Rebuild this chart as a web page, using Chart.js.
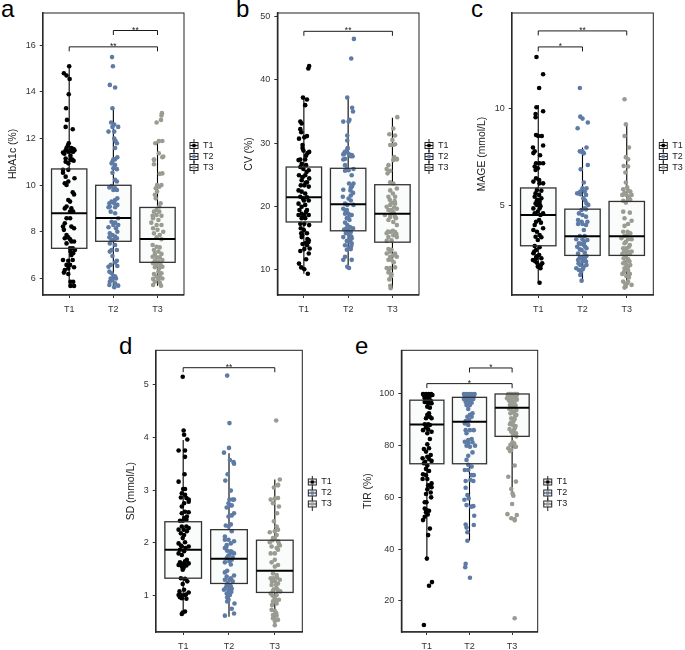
<!DOCTYPE html>
<html>
<head>
<meta charset="utf-8">
<script src="https://cdn.jsdelivr.net/npm/chart.js@4"></script>
<style>
	body { margin: 0; background: #fff; width: 685px; height: 650px; overflow: hidden; position: relative; }
	canvas { position: absolute; }
	.tag { position: absolute; font: 24px "Liberation Sans", Arial, sans-serif; line-height: 24px; color: #000; }
</style>
</head>
<body>
<span class="tag" style="left:1px;top:-3px">a</span>
<span class="tag" style="left:236px;top:-3px">b</span>
<span class="tag" style="left:471px;top:-3px">c</span>
<span class="tag" style="left:119px;top:334px">d</span>
<span class="tag" style="left:355px;top:334px">e</span>
<canvas id="panelA"></canvas>
<canvas id="panelB"></canvas>
<canvas id="panelC"></canvas>
<canvas id="panelD"></canvas>
<canvas id="panelE"></canvas>
<script>
const groups = ['T1', 'T2', 'T3'];
const groupColors = ['#000000', '#5E7BA6', '#9A9C92'];

// Points are [jitter from group centre, value]
const hba1cT1 = [[0,15.1],[-.12,14.8],[-.06,14.7],[.01,14.55],[-.01,13.9],[-.07,13.3],[-.05,12.8],[-.08,12.5],[.08,12.4],[-.01,11.8],[-.03,11.7],[-.06,11.6],[-.08,11.5],[.05,11.6],[.1,11.55],[.07,11.45],[.12,11.5],[-.11,11.35],[0,11.45],[-.08,11.15],[.03,11.1],[.1,11.05],[.07,11.1],[-.14,11.4],[-.02,11.44],[.09,11.44],[.03,11.26],[-.08,11.01],[-.02,10.94],[.05,11.09],[-.14,10.66],[-.02,10.66],[-.14,10.54],[-.08,10.37],[.12,10.3],[-.02,10.16],[-.1,10.09],[-.06,10.01],[.08,9.7],[.11,9.61],[-.02,9.37],[.02,9.3],[-.1,9.01],[-.06,9.09],[.05,9.01],[.02,8.87],[.09,8.87],[-.06,8.59],[.02,8.59],[-.1,8.37],[-.14,8.23],[.05,8.23],[.11,8.16],[-.12,8.09],[-.06,7.87],[-.02,7.77],[-.1,7.73],[.02,7.69],[.05,7.59],[.11,7.59],[-.06,7.51],[.02,7.3],[.08,7.3],[.13,7.23],[.03,7.16],[.09,7.09],[.05,7.01],[-.14,6.8],[-.02,6.77],[.08,6.8],[-.06,6.59],[.02,6.59],[.11,6.49],[-.1,6.37],[-.02,6.44],[-.12,6.26],[-.02,6.2],[.03,5.87],[.09,5.87],[.03,5.69],[.11,5.69]];
const hba1cT2 = [[-.03,15.49],[-.01,15.1],[-.08,14.3],[.04,14.19],[-.02,13.3],[-.05,12.69],[.02,12.6],[-.02,12.5],[.11,12.5],[-.11,12.3],[.02,12.3],[.02,12],[.05,11.9],[.08,11.8],[.04,11.6],[.09,11.2],[0,11.1],[.04,11.11],[-.02,11.01],[-.04,10.94],[.04,10.87],[0,10.73],[.08,10.69],[-.02,10.54],[.04,10.23],[.08,10.16],[-.04,9.97],[-.09,9.91],[.04,9.87],[.08,9.8],[0,9.8],[.09,9.44],[.04,9.37],[-.04,9.3],[-.09,9.23],[.02,9.23],[.09,9.16],[-.08,9.09],[.04,9.06],[-.11,9.06],[-.06,8.87],[.04,8.8],[.11,8.59],[-.04,8.44],[.04,8.4],[.11,8.3],[-.11,8.2],[0,8.3],[.06,8.16],[.09,8.01],[-.08,7.94],[-.02,7.87],[.04,7.8],[-.09,7.77],[.08,7.73],[-.04,7.66],[.02,7.66],[-.08,7.51],[.04,7.44],[-.04,7.23],[.08,7.23],[-.08,7.16],[-.02,6.97],[.08,6.77],[.04,6.69],[-.06,6.59],[-.11,6.51],[.09,6.54],[-.09,6.3],[-.04,6.23],[0,6.11],[.04,6.09],[-.06,6.01],[-.02,5.94],[.06,6.01],[-.08,5.87],[.04,5.8],[-.09,5.73],[.02,5.63],[.11,5.7]];
const hba1cT3 = [[.1,13.09],[.09,12.99],[-.02,12.69],[.08,12.8],[-.05,11.8],[.03,11.89],[.11,11.9],[.03,11.37],[.11,11.2],[-.08,11.1],[-.08,11.09],[-.08,10.9],[.13,11.23],[.05,10.49],[.11,10.51],[-.01,10.01],[.09,10.01],[.04,9.94],[-.04,9.87],[-.01,9.73],[-.06,9.59],[-.04,9.44],[.07,9.23],[.04,9.09],[-.02,8.94],[-.08,8.87],[.04,8.87],[-.11,8.69],[-.02,8.73],[.09,8.69],[-.1,8.59],[.02,8.51],[-.14,8.4],[-.02,8.3],[.09,8.3],[-.1,8.16],[0,8.09],[.13,8.01],[-.08,7.94],[.05,7.87],[-.02,7.77],[.09,7.69],[-.11,7.44],[-.02,7.37],[.05,7.34],[-.08,7.23],[.02,7.16],[-.06,7.06],[.09,7.06],[-.11,6.94],[-.02,6.91],[.05,6.91],[-.06,6.77],[.02,6.73],[.11,6.8],[-.1,6.66],[-.02,6.59],[.07,6.59],[-.06,6.49],[.04,6.44],[.11,6.51],[.02,6.3],[-.08,6.2],[.09,6.23],[-.02,6.09],[.05,6.11],[-.1,5.99],[.02,5.97],[.11,6.01],[-.06,5.87],[.05,5.83],[-.1,5.73],[.08,5.7]];

const cvT1 = [[.12,42.2],[.1,41.8],[-.02,37.2],[.07,36.9],[.03,36],[-.08,33.4],[-.05,33.1],[-.08,32.2],[-.06,31.7],[-.11,30.7],[.07,31.1],[.01,30.9],[-.03,29.7],[-.03,29.2],[-.01,28.8],[.12,28.6],[.08,28.4],[.05,28],[-.08,27.4],[.03,27.4],[-.12,27.3],[-.05,26.7],[-.08,26.2],[.05,26.5],[-.01,25.9],[.11,25.7],[-.11,24.9],[.03,24.9],[.12,24.4],[-.05,24.1],[.07,23.8],[-.07,23.3],[.01,23.3],[.11,23.1],[-.12,22.5],[-.05,22.3],[.03,22],[-.08,21.5],[.07,21.4],[-.12,20.4],[0,20.9],[.11,20.9],[-.05,19.9],[.03,20.2],[-.1,19.4],[.07,19.4],[-.05,18.8],[.01,18.6],[.11,18.6],[-.12,18.6],[-.05,18.1],[.03,18.1],[-.08,17.2],[.01,17.2],[.12,17],[-.07,16.5],[0,16.2],[-.06,15.7],[.07,15.7],[-.05,15.1],[.11,14.6],[.05,14.2],[.07,13.8],[-.08,12.9],[.01,13.2],[.13,13.3],[.11,12.5],[.05,11.6],[-.11,10.9],[-.06,10.3],[.01,10],[.09,9.3],[.08,14.8],[.1,14.3],[-.03,14],[-.04,15.4],[.05,19.1],[-.02,21.2],[.04,23.7],[-.03,24.6],[.06,25.4]];
const cvT2 = [[.13,46.5],[.07,43.4],[-.02,37.2],[.09,35.6],[.11,35],[.03,33.7],[-.11,33.4],[.01,33.4],[-.02,31.2],[-.02,30.4],[-.01,29.2],[-.02,29],[-.08,28.5],[-.09,28.3],[.08,28.1],[.1,27.9],[-.07,27.5],[-.11,27.4],[-.07,28.6],[.01,28.3],[-.11,28.2],[.06,27.9],[-.07,26.5],[-.03,25.9],[.01,25.7],[-.07,25.6],[.12,25.9],[.08,24.9],[.02,23.6],[.12,23.6],[.08,23.1],[-.11,22.6],[.05,22.5],[.11,22.1],[.06,21.7],[-.12,21.5],[.01,21.2],[.06,20.9],[-.07,20.4],[-.02,20.2],[.12,20.2],[-.11,19.6],[-.03,19.4],[-.07,18.8],[.01,18.8],[.08,18.6],[-.03,18.1],[.03,17.8],[-.07,17.4],[-.02,17],[.11,16.5],[-.09,16.3],[.01,16.2],[.06,15.9],[-.05,15.7],[.03,15.3],[-.11,15.1],[.08,14.9],[-.03,14.5],[.03,14.4],[-.07,13.8],[.08,14.1],[.01,13.3],[-.03,13.1],[.06,13.2],[-.07,12],[.08,11.5],[-.11,11.5],[-.02,10.4],[.02,10.2],[.04,16.7],[-.05,16.4],[.07,15.2],[.05,14.7],[.09,23.2],[.06,22.9],[.03,18.5],[-.05,19.2],[.07,13.7],[-.01,15.8]];
const cvT3 = [[.11,34.1],[.02,32.3],[-.07,31.4],[.06,31.2],[0,30.5],[-.05,29.7],[.01,29.7],[.06,29.8],[.04,27.8],[.1,27.4],[.1,27.5],[-.09,26.5],[-.13,25.9],[.02,27.3],[-.05,25.6],[-.11,25.2],[-.05,23.8],[.02,23.6],[.1,22.8],[-.05,22.5],[.01,22],[-.09,21.5],[.06,21.5],[-.02,20.5],[-.13,19.9],[-.05,20.2],[.06,20.4],[.1,19.6],[-.09,19.4],[.01,19.1],[-.17,18.6],[-.05,18.3],[.06,18.3],[-.09,17.8],[.02,17.5],[.1,17],[-.13,15.7],[-.05,15.9],[.06,15.9],[.02,15.4],[-.09,15.1],[.1,15.1],[-.02,14.6],[-.13,14.5],[-.09,13.2],[-.02,13.1],[-.13,12.5],[.06,12.5],[-.05,12],[.1,12],[-.09,11.5],[-.02,11.5],[-.13,10.2],[-.05,10.2],[.06,10.3],[-.09,9.5],[-.02,9.2],[-.07,8.4],[-.05,7.4],[-.04,7],[.04,19.8],[-.02,19.4],[.05,20.8],[-.06,21],[.03,18.9],[-.04,18.7],[.08,18.1],[-.1,16],[.01,16.1],[.09,15.6],[-.05,12.8],[.02,12.2],[-.08,9.9],[.03,11.1],[-.03,8.9]];

const mageT1 = [[-.04,12.7],[.11,11.8],[.02,11.09],[-.04,10.09],[.11,9.88],[-.06,9.74],[-.06,9.57],[-.05,8.65],[0,8.6],[.08,8.6],[-.12,8],[.11,8.1],[-.08,7.8],[-.11,7.71],[.04,7.6],[-.05,7.18],[.03,7.18],[.11,7.18],[-.08,7.01],[-.01,6.92],[-.06,6.83],[-.05,6.4],[.02,6.31],[-.11,6.23],[.11,6.14],[.03,6.14],[-.03,5.8],[.07,5.76],[-.06,5.62],[.02,5.54],[-.08,5.45],[.07,5.36],[-.01,5.28],[.03,5.19],[-.06,5.1],[-.03,5.02],[-.11,4.84],[.03,4.84],[-.01,4.67],[.11,4.58],[-.08,4.58],[.05,4.5],[-.05,4.15],[.02,4.24],[-.08,3.98],[-.11,3.72],[-.03,3.63],[.11,3.81],[.03,3.46],[-.06,3.37],[.07,3.34],[-.01,3.2],[-.08,2.89],[.03,2.82],[-.05,2.68],[-.11,2.51],[.02,2.42],[-.12,2.16],[-.05,2.25],[.07,2.25],[-.03,2.02],[.09,1.99],[-.01,1.82],[.05,1.73],[.03,.98],[.01,5.15],[.03,5.05],[-.03,5.25],[.05,4.95],[.06,4.1],[-.09,2.6],[-.04,2.35],[.06,1.9],[-.07,2.1]];
const mageT2 = [[-.06,11.09],[-.05,9.6],[0,9.5],[.12,9.3],[-.11,9],[.09,8],[-.06,7.8],[0,7.8],[.02,7.71],[-.02,7.79],[.03,7.7],[.12,7.09],[-.04,6.87],[.03,6.18],[0,5.88],[.09,5.88],[-.05,5.71],[.05,5.71],[-.12,5.62],[-.05,5.57],[.08,5.54],[.02,5.36],[.09,5.1],[.13,5.02],[.05,4.84],[-.02,4.76],[.08,4.79],[-.08,4.58],[0,4.5],[-.1,4.24],[.08,4.41],[-.02,4.15],[.11,4.15],[-.1,4.03],[0,4.03],[.08,3.98],[.03,3.72],[-.06,3.41],[.05,3.41],[-.14,3.24],[0,3.24],[.11,3.2],[-.08,3.03],[.03,2.94],[-.12,2.85],[.09,2.77],[-.02,2.68],[.03,2.34],[-.06,2.3],[.09,2.37],[-.1,2.16],[0,2.08],[.08,2.08],[-.14,1.73],[-.05,1.9],[.03,1.82],[-.08,1.64],[.09,1.9],[-.05,1.38],[-.02,1.09],[.04,3.1],[-.04,3],[.06,2.85],[-.06,2.72],[.05,2.55],[-.1,2.5],[-.03,2.25],[.05,2.22],[-.09,1.98],[.01,1.7],[-.03,1.55],[.06,5.25]];
const mageT3 = [[-.05,10.5],[-.02,9.2],[-.05,8.6],[.05,8],[-.02,7.5],[.03,7.39],[-.07,7.04],[.03,7.01],[-.03,6.7],[-.02,6.18],[.01,5.93],[-.08,5.83],[.03,5.76],[.08,5.71],[-.1,5.54],[-.01,5.54],[.11,5.54],[-.08,5.24],[.03,5.31],[.08,5.28],[-.02,5.14],[-.08,4.67],[.07,4.62],[-.05,4.33],[.11,4.2],[.03,4.03],[-.05,3.93],[-.08,3.63],[.02,3.63],[.08,3.55],[-.05,3.41],[-.12,3.29],[.03,3.24],[.11,3.24],[-.05,3.03],[.07,2.94],[-.08,2.77],[-.01,2.77],[.03,2.6],[.11,2.6],[-.1,2.47],[-.02,2.37],[.07,2.47],[-.07,2.25],[.03,2.2],[-.08,1.99],[-.01,1.9],[.08,1.9],[-.05,1.73],[.03,1.61],[-.1,1.44],[.07,1.44],[-.01,1.33],[-.08,1.04],[.03,1.04],[-.03,.87],[.11,.87],[-.05,.73],[.05,5.45],[-.05,5.65],[.01,3.45],[-.02,3.1],[.05,2.85],[-.06,2.6],[.01,2.5],[.06,2.1],[-.04,2.05],[.03,1.8],[-.06,1.55],[.05,1.25],[.01,.95]];

const sdT1 = [[-.01,5.15],[.01,4.13],[.02,4.05],[.09,3.96],[-.1,3.75],[.04,3.75],[.04,3.63],[.03,3.3],[-.1,3.16],[0,3.02],[.04,3.02],[-.03,2.94],[.04,2.91],[.12,2.82],[-.05,2.86],[.07,2.85],[.02,2.75],[.12,2.78],[-.03,2.69],[.04,2.59],[.12,2.58],[-.03,2.56],[.08,2.5],[.02,2.47],[-.07,2.42],[-.01,2.42],[.07,2.44],[-.03,2.31],[.07,2.31],[.12,2.28],[-.1,2.25],[.01,2.25],[.08,2.22],[-.05,2.18],[.02,2.15],[-.01,2.09],[-.1,1.99],[.04,2.01],[-.03,1.93],[.12,1.93],[-.07,1.87],[.02,1.84],[-.1,1.8],[-.03,1.77],[.08,1.68],[-.07,1.63],[.02,1.61],[.12,1.61],[-.03,1.55],[.07,1.57],[-.1,1.58],[-.01,1.49],[-.05,1.33],[.04,1.32],[.09,1.27],[-.01,1.22],[-.08,1.08],[.02,1.11],[.12,1.06],[-.05,1.01],[.04,1.01],[-.1,1.01],[-.03,.95],[.07,.94],[-.01,.68],[.04,.7],[-.03,.65],[.05,1.9],[-.05,1.95],[.04,1.65],[-.05,1.6],[.01,1.53],[.06,1.02],[-.07,.97]];
const sdT2 = [[-.04,5.17],[.01,4.27],[0,3.8],[-.11,3.71],[.02,3.57],[.1,3.53],[.11,3.5],[-.03,3.3],[-.08,3.18],[.04,2.99],[.08,2.82],[.01,2.82],[.11,2.82],[-.01,2.75],[.06,2.71],[-.05,2.67],[.02,2.71],[.11,2.56],[.06,2.52],[-.01,2.5],[-.07,2.33],[-.01,2.31],[.04,2.35],[.06,2.22],[-.09,2.12],[-.09,2.06],[.11,2.03],[-.01,2.06],[-.05,1.96],[.04,1.99],[-.09,1.9],[-.04,1.85],[.04,1.84],[.11,1.8],[.01,1.78],[-.05,1.71],[.08,1.72],[-.09,1.63],[.01,1.65],[.04,1.59],[-.09,1.44],[-.04,1.47],[.11,1.38],[-.05,1.36],[.04,1.33],[-.09,1.3],[.01,1.3],[.08,1.27],[-.05,1.2],[.04,1.17],[-.11,1.11],[-.01,1.09],[.06,1.13],[-.05,1.04],[.02,1.01],[-.01,.92],[-.04,.89],[.12,.85],[.06,.75],[.11,.66],[-.09,.62],[.07,1.82],[.06,1.68],[-.02,1.75],[-.06,1.92],[-.03,1.24],[.03,1.18],[-.07,1.15],[-.02,1.03],[.05,1.07],[-.04,.97]];
const sdT3 = [[.03,4.32],[.11,3.2],[.07,3.1],[-.02,3.05],[.07,3.09],[.07,2.85],[-.09,2.82],[0,2.84],[-.04,2.75],[.09,2.69],[.05,2.56],[-.02,2.41],[.04,2.31],[.07,2.25],[0,2.22],[-.11,2.2],[.04,2.15],[-.04,2.09],[-.11,2.01],[0,2.09],[.07,2.03],[.11,1.95],[-.07,1.93],[.04,1.9],[-.09,1.8],[0,1.8],[.07,1.87],[0,1.68],[-.07,1.63],[.07,1.58],[0,1.55],[-.04,1.42],[.04,1.39],[-.09,1.33],[.11,1.3],[0,1.27],[.07,1.23],[-.07,1.2],[.04,1.14],[-.04,1.09],[.12,1.08],[-.09,1.04],[.04,1.01],[0,.95],[.09,.92],[-.04,.89],[.04,.85],[-.07,.73],[0,.71],[-.04,.63],[.04,.62],[.07,.54],[0,.52],[-.04,.57],[0,.44],[-.05,2.05],[.09,1.98],[-.03,1.33],[.05,1.34],[-.06,1.27],[.03,1.2],[-.02,1.12],[.07,1.1],[-.05,1],[.02,.9],[-.06,.82],[.03,.67]];

const tirT1 = [[-.09,100],[-.02,100],[.04,100],[.1,100],[-.07,99.4],[.01,99.2],[.07,99.2],[.13,99.6],[-.05,98.3],[.05,98.3],[-.01,97.4],[.09,97.4],[.03,96.4],[.11,96.4],[.01,95.1],[.07,94.7],[-.03,99.8],[.06,99.8],[-.05,96.9],[.05,92.5],[.01,91.9],[.07,91.2],[-.02,90.6],[.11,90.6],[-.05,88.3],[.03,88.3],[.07,88],[-.02,87],[-.09,86],[.03,86.3],[.01,84.8],[.11,85.4],[.07,82.6],[.01,80.5],[-.07,78.7],[.05,79],[-.02,77.7],[.09,76.4],[.01,75.7],[-.1,75.1],[.05,74.8],[-.04,73.8],[.11,74.1],[-.07,73.2],[.01,72.3],[-.02,71],[.05,70.2],[-.09,68.9],[-.02,68.6],[-.1,67.1],[.01,67.1],[.11,65.4],[.03,64.7],[.09,64.1],[.11,63.9],[.01,63.1],[-.02,61.3],[.09,61.9],[.1,60],[-.05,58.1],[-.01,58.1],[-.05,55.7],[-.01,55.1],[.05,54.8],[-.02,54.2],[.02,53.4],[-.05,52.5],[-.09,51.2],[.07,47.9],[.03,45.4],[0,36.3],[.12,27.2],[.05,25.8],[-.07,10.6]];
const tirT2 = [[-.13,100],[-.07,100],[-.01,100],[.05,100],[.12,100],[-.11,99.2],[-.03,99.2],[.05,99.2],[.1,99.2],[-.13,98.1],[-.05,98.1],[.02,98.1],[.09,98.1],[-.09,97],[-.01,97],[.05,96.6],[-.07,95.7],[.01,95.7],[-.03,94.2],[.07,92.5],[.01,91.9],[-.05,91.2],[.05,91.2],[-.09,89.5],[-.01,89.9],[-.11,88.6],[-.03,88],[-.09,86],[.01,86],[.1,86],[-.07,84.8],[-.03,82.2],[.05,82.6],[-.11,81.5],[-.03,80.9],[.07,81.3],[.13,80],[-.07,80],[.01,79.6],[.07,77.4],[-.03,76.1],[-.07,74.5],[-.03,72.6],[.05,71.9],[-.11,70.6],[-.03,70.6],[.05,68.6],[.1,68.6],[.02,66.7],[-.09,66.3],[.09,66.3],[-.09,63.7],[-.05,60.9],[-.02,59.6],[-.12,59.1],[-.07,57],[.04,56.4],[.09,56.6],[.11,52.9],[-.09,49.5],[.1,49.3],[-.07,48.3],[-.05,46.5],[-.05,43.2],[-.09,34.3],[-.1,33],[.01,28.9]];
const tirT3 = [[-.09,100],[-.02,100],[.06,100],[.12,100],[-.05,99.4],[.02,99.2],[.1,99.2],[-.12,98.3],[-.02,98.3],[.09,98.3],[.02,97],[-.05,95.7],[.06,95.1],[-.02,94.2],[.1,93.8],[.01,92.9],[.1,91.9],[-.02,90.6],[.06,90.3],[.02,88],[-.05,88.3],[.06,86.7],[-.02,85.4],[.09,84.8],[.02,84.1],[.01,81.3],[.06,79.6],[-.09,79],[-.02,78.3],[-.05,77.9],[.09,79.6],[.06,72.3],[-.09,68],[.09,66.1],[-.02,63.2],[.01,61.5],[.03,60.6],[0,57.4],[-.11,53.5],[.11,53.2],[-.02,51.9],[.06,51.6],[.06,51.1],[.06,13.2],[-.06,100],[.03,100],[.09,100],[-.1,99.6],[-.04,98.8],[.05,98.8],[.11,97.8],[-.07,97.4],[.06,97.2],[0,96.6],[-.03,96],[.08,95.6],[.03,94.9],[-.07,94.3],[.05,93.1],[-.04,92.5],[.07,91.6],[.03,89.4],[-.03,88.9],[.08,87.6],[-.06,86.4],[.04,85.8],[.1,83.6],[.05,80.8],[-.04,80.3]];

// Box stats per group: whisker low, q1, median, q3, whisker high
const hba1cBox = [[5.65, 7.3, 8.8, 10.7, 15.1], [5.6, 7.6, 8.6, 10, 13.3], [5.7, 6.7, 7.7, 9.05, 11.9]];
const cvBox = [[9.3, 17.5, 21.4, 26.2, 37.2], [10.2, 16.1, 20.3, 26, 37.2], [7, 14.3, 18.8, 23.4, 34]];
const mageBox = [[1, 2.9, 4.5, 5.9, 10.2], [1.1, 2.4, 3.4, 4.8, 8], [.7, 2.4, 3.4, 5.2, 9.2]];
const sdBox = [[.65, 1.33, 1.87, 2.4, 3.95], [.6, 1.23, 1.7, 2.25, 3.7], [.44, 1.06, 1.47, 2.05, 3.2]];
const tirBox = [[36, 73, 88.2, 97.6, 100], [43.3, 73, 89.3, 98.7, 100], [60.5, 83.6, 94.7, 100, 100]];

// Brackets: from group, to group, height, stars
const hba1cBrackets = [[2, 3, 16.63, '**'], [1, 3, 15.93, '**']];
const cvBrackets = [[1, 3, 47.7, '**']];
const mageBrackets = [[1, 3, 14.05, '**'], [1, 2, 13.22, '*']];
const sdBrackets = [[1, 3, 5.32, '**']];
const tirBrackets = [[2, 3, 110.06, '*'], [1, 3, 104, '*']];

const hba1cTicks = [6, 8, 10, 12, 14, 16];
const cvTicks = [10, 20, 30, 40, 50];
const mageTicks = [5, 10];
const sdTicks = [1, 2, 3, 4, 5];
const tirTicks = [20, 40, 60, 80, 100];

const fontFamily = '"Liberation Sans", Arial, sans-serif';
const legendWidth = 36;

// Small boxplot key for the legend
function legendKey(color) {
	const key = document.createElement('canvas');
	key.width = 11;
	key.height = 13;
	const ctx = key.getContext('2d');
	ctx.strokeStyle = '#222';
	ctx.lineWidth = 1;
	ctx.beginPath();
	ctx.moveTo(5.5, 0);
	ctx.lineTo(5.5, 13);
	ctx.stroke();
	ctx.fillStyle = '#fafcfb';
	ctx.fillRect(1.5, 3.5, 8, 6);
	ctx.strokeRect(1.5, 3.5, 8, 6);
	ctx.beginPath();
	ctx.moveTo(1.5, 6.5);
	ctx.lineTo(9.5, 6.5);
	ctx.stroke();
	ctx.fillStyle = color;
	ctx.beginPath();
	ctx.arc(5.5, 6.5, 2, 0, Math.PI * 2);
	ctx.fill();
	return key;
}

const boxPlugin = {
	id: 'boxes',
	afterLayout(chart) {
		// push the legend to where the picture has it
		const area = chart.chartArea;
		const mid = chart.options.plugins.boxes.legendMid;
		const h = chart.legend.bottom - chart.legend.top;
		chart.legend.left = area.right + 3.5;
		chart.legend.top = mid - h / 2;
		chart.legend.bottom = mid + h / 2;
	},
	beforeDatasetsDraw(chart, args, opts) {
		const { ctx, scales: { x, y } } = chart;
		const half = 0.4;
		ctx.save();
		opts.stats.forEach((s, i) => {
			const cx = x.getPixelForValue(i + 1);
			ctx.fillStyle = '#fafcfb';
			const l = x.getPixelForValue(i + 1 - half);
			const r = x.getPixelForValue(i + 1 + half);
			const t = y.getPixelForValue(s[3]);
			const b = y.getPixelForValue(s[1]);
			ctx.fillRect(l, t, r - l, b - t);
			ctx.strokeStyle = '#000';
			ctx.lineWidth = 1.1;
			ctx.beginPath();
			ctx.moveTo(cx, y.getPixelForValue(s[0]));
			ctx.lineTo(cx, b);
			ctx.moveTo(cx, t);
			ctx.lineTo(cx, y.getPixelForValue(s[4]));
			ctx.stroke();
		});
		ctx.restore();
	},
	afterDatasetsDraw(chart, args, opts) {
		const { ctx, chartArea, scales: { x, y } } = chart;
		const half = 0.4;
		ctx.save();
		opts.stats.forEach((s, i) => {
			const l = x.getPixelForValue(i + 1 - half);
			const r = x.getPixelForValue(i + 1 + half);
			const t = y.getPixelForValue(s[3]);
			const b = y.getPixelForValue(s[1]);
			const m = y.getPixelForValue(s[2]);
			ctx.strokeStyle = '#333';
			ctx.lineWidth = 1.3;
			ctx.strokeRect(l, t, r - l, b - t);
			ctx.strokeStyle = '#000';
			ctx.lineWidth = 2;
			ctx.beginPath();
			ctx.moveTo(l, m);
			ctx.lineTo(r, m);
			ctx.stroke();
		});

		// significance brackets
		ctx.strokeStyle = '#000';
		ctx.lineWidth = 0.9;
		ctx.fillStyle = '#222';
		ctx.font = '8.5px ' + fontFamily;
		ctx.textAlign = 'center';
		opts.brackets.forEach((br) => {
			const x1 = x.getPixelForValue(br[0]);
			const x2 = x.getPixelForValue(br[1]);
			const yy = y.getPixelForValue(br[2]);
			ctx.beginPath();
			ctx.moveTo(x1, yy + 4.5);
			ctx.lineTo(x1, yy);
			ctx.lineTo(x2, yy);
			ctx.lineTo(x2, yy + 4.5);
			ctx.stroke();
			ctx.fillText(br[3], (x1 + x2) / 2, yy + 2);
		});

		// panel frame
		ctx.strokeStyle = '#222';
		ctx.lineWidth = 1;
		ctx.strokeRect(chartArea.left, chartArea.top, chartArea.right - chartArea.left, chartArea.bottom - chartArea.top);
		ctx.restore();
	}
};

function drawPanel(id, title, titleOffset, points, stats, brackets, ticks, yRange, frame) {
	const canvas = document.getElementById(id);
	const left = Math.floor(frame[0] - 43);
	const top = frame[2] > 300 ? 336 : 0;
	const height = frame[2] > 300 ? 314 : 313;
	canvas.width = Math.ceil(frame[1] - left + legendWidth);
	canvas.height = height;
	canvas.style.left = left + 'px';
	canvas.style.top = top + 'px';

	const datasets = points.map((list, g) => ({
		label: groups[g],
		data: list.map((p) => ({ x: g + 1 + p[0], y: p[1] })),
		backgroundColor: groupColors[g],
		borderWidth: 0,
		pointRadius: 2.3
	}));

	return new Chart(canvas, {
		type: 'scatter',
		data: { datasets: datasets },
		plugins: [boxPlugin],
		options: {
			responsive: false,
			animation: false,
			events: [],
			layout: { padding: { top: frame[2] - top, right: canvas.width - (frame[1] - left) - legendWidth } },
			plugins: {
				tooltip: { enabled: false },
				boxes: { stats: stats, brackets: brackets, legendMid: frame[2] > 300 ? 493 - top : 156.5 },
				legend: {
					position: 'right',
					labels: {
						usePointStyle: true,
						padding: 2,
						color: '#222',
						font: { size: 9, family: fontFamily },
						generateLabels: () => groups.map((g, i) => ({
							text: g,
							pointStyle: legendKey(groupColors[i]),
							fontColor: '#222',
							datasetIndex: i,
							hidden: false
						}))
					}
				}
			},
			scales: {
				x: {
					type: 'linear',
					min: 0.4,
					max: 3.6,
					afterFit: (s) => { s.height = 18; },
					afterBuildTicks: (s) => { s.ticks = groups.map((g, i) => ({ value: i + 1 })); },
					grid: { drawOnChartArea: false, tickLength: 3, tickColor: '#333' },
					border: { color: '#444', width: 1.6 },
					ticks: {
						color: '#333',
						padding: 6,
						maxRotation: 0,
						font: { size: 9, family: fontFamily },
						callback: (v) => groups[v - 1]
					}
				},
				y: {
					min: yRange[0],
					max: yRange[1],
					afterFit: (s) => { s.width = frame[0] - left; },
					afterBuildTicks: (s) => { s.ticks = ticks.map((v) => ({ value: v })); },
					grid: { drawOnChartArea: false, tickLength: 3, tickColor: '#333' },
					border: { color: '#444', width: 1.6 },
					ticks: { color: '#333', padding: 4, font: { size: 9, family: fontFamily } },
					title: {
						display: true,
						text: title,
						color: '#222',
						font: { size: 10.4, family: fontFamily },
						padding: { top: titleOffset - 6.2, bottom: 0 }
					}
				}
			}
		}
	});
}

// Frame is left, right, top edge in page pixels
drawPanel('panelA', 'HbA1c (%)', 14.3, [hba1cT1, hba1cT2, hba1cT3], hba1cBox, hba1cBrackets, hba1cTicks, [5.3, 17.38], [42.7, 184, 13]);
drawPanel('panelB', 'CV (%)', 15, [cvT1, cvT2, cvT3], cvBox, cvBrackets, cvTicks, [5.93, 50.6], [277.3, 419, 13]);
drawPanel('panelC', 'MAGE (mmol/L)', 14.6, [mageT1, mageT2, mageT3], mageBox, mageBrackets, mageTicks, [0.345, 14.98], [511.7, 653.3, 13]);
drawPanel('panelD', 'SD (mmol/L)', 19, [sdT1, sdT2, sdT3], sdBox, sdBrackets, sdTicks, [0.31, 5.65], [155.7, 302.3, 350.3]);
drawPanel('panelE', 'TIR (%)', 10, [tirT1, tirT2, tirT3], tirBox, tirBrackets, tirTicks, [7.9, 116.9], [401.3, 537.7, 350.3]);
</script>
</body>
</html>
